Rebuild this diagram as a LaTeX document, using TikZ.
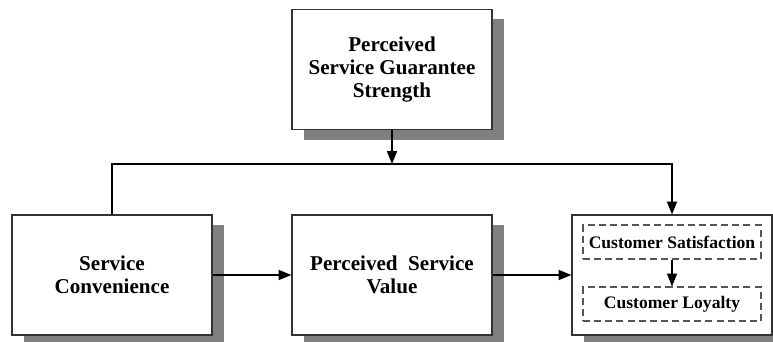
\documentclass[tikz,border=0pt]{standalone}
\usepackage{fontspec}
\setmainfont{Liberation Serif}
\usepackage{tikz}
\usetikzlibrary{arrows.meta,positioning,shadows}
\definecolor{edge}{HTML}{333333}
\definecolor{shade}{HTML}{808080}
\definecolor{dashgray}{HTML}{555555}
\tikzset{
  factorbox/.style={
    rectangle, draw=edge, fill=white, line width=0.9pt,
    minimum width=6cm, minimum height=3.6cm,
    font=\fontsize{18}{19.5}\selectfont\bfseries, align=center, inner sep=2pt,
    drop shadow={shadow xshift=0.36cm, shadow yshift=-0.3cm,
                 fill=shade, opacity=1}
  },
  innerbox/.style={
    rectangle, draw=dashgray, fill=white, line width=0.9pt,
    dash pattern=on 6pt off 3.5pt,
    minimum width=5.34cm, minimum height=1.02cm,
    font=\fontsize{15}{17}\selectfont\bfseries, inner sep=2pt
  },
  linkarrow/.style={
    -{Triangle[length=11pt,width=8.5pt]}, line width=1.4pt, color=black
  },
}
\begin{document}
\begin{tikzpicture}[x=0.03cm, y=-0.03cm]
  \useasboundingbox (0,0) rectangle (773,342);

  % Top factor
  \node[factorbox] (guar) at (392,69.5) {Perceived\\Service Guarantee\\Strength};

  % Bottom row
  \node[factorbox] (conv) at (112,275) {Service\\Convenience};
  \node[factorbox] (value) at (392,275) {Perceived~ Service\\Value};
  \node[factorbox] (outcome) at (672,275) {};

  % Outcomes inside the right box
  \node[innerbox] (satis) at (672,242) {Customer Satisfaction};
  \node[innerbox] (loyal) at (672,304) {Customer Loyalty};

  % Bus line
  \coordinate (bus) at (0,164);
  \draw[linkarrow] (guar.south) -- (guar.south |- bus);
  \draw[linkarrow] (conv.north) |- (bus -| outcome.north) -- (outcome.north);

  % Main path
  \draw[linkarrow] (conv.east) -- (value.west);
  \draw[linkarrow] (value.east) -- (outcome.west);
  \draw[linkarrow, line width=1.2pt] (satis.south) -- (loyal.north);
\end{tikzpicture}
\end{document}
